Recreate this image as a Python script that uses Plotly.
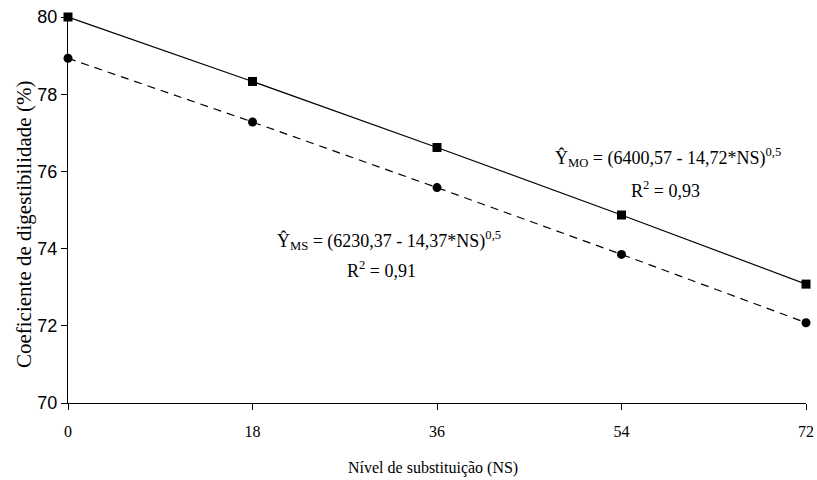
import plotly.graph_objects as go

ns = [0, 18, 36, 54, 72]
mo = [80.00, 78.33, 76.62, 74.87, 73.08]
ms = [78.93, 77.28, 75.58, 73.85, 72.08]
y_ticks = [70, 72, 74, 76, 78, 80]

serif = "Liberation Serif, Times New Roman, serif"
sans = "Liberation Sans, Arial, sans-serif"

fig = go.Figure()
fig.add_trace(go.Scatter(x=ns, y=mo, mode="lines+markers",
                         line=dict(color="black", width=1.2),
                         marker=dict(symbol="square", size=9, color="black"),
                         cliponaxis=False, showlegend=False))
fig.add_trace(go.Scatter(x=ns, y=ms, mode="lines+markers",
                         line=dict(color="black", width=1.2, dash="8px,6px"),
                         marker=dict(symbol="circle", size=9, color="black"),
                         cliponaxis=False, showlegend=False))

fig.update_layout(
    width=817, height=480,
    margin=dict(l=68, r=11, t=17, b=77),
    plot_bgcolor="white", paper_bgcolor="white",
    showlegend=False,
)
fig.update_xaxes(range=[0, 72], tickvals=ns, ticktext=[str(v) for v in ns],
                 automargin=False,
                 showgrid=False, zeroline=False, showline=True, linecolor="black",
                 linewidth=1, ticks="outside", ticklen=6, tickcolor="black",
                 ticklabelstandoff=8,
                 tickfont=dict(family=serif, size=16, color="black"))
fig.update_yaxes(range=[70, 80], tickvals=y_ticks,
                 automargin=False,
                 showgrid=False, zeroline=False, showline=True, linecolor="black",
                 linewidth=1, ticks="outside", ticklen=6, tickcolor="black",
                 tickfont=dict(family=sans, size=18, color="black"))

ann_font = dict(family=serif, size=18, color="black")
fig.add_annotation(x=-0.0596, y=0.461, xref="paper", yref="paper",
                   xanchor="center", yanchor="middle",
                   text="Coeficiente de digestibilidade (%)", textangle=-90,
                   showarrow=False, font=dict(family=serif, size=21, color="black"))
fig.add_annotation(x=0.495, y=-0.168, xref="paper", yref="paper",
                   xanchor="center", yanchor="middle",
                   text="Nível de substituição (NS)", showarrow=False,
                   font=dict(family=serif, size=16, color="black"))
fig.add_annotation(x=47.3, y=76.35, xanchor="left", showarrow=False, font=ann_font,
                   text="Ŷ<sub>MO</sub> = (6400,57 - 14,72*NS)<sup>0,5</sup>")
fig.add_annotation(x=58.3, y=75.52, showarrow=False, font=ann_font,
                   text="R<sup>2</sup> = 0,93")
fig.add_annotation(x=20.2, y=74.2, xanchor="left", showarrow=False, font=ann_font,
                   text="Ŷ<sub>MS</sub> = (6230,37 - 14,37*NS)<sup>0,5</sup>")
fig.add_annotation(x=30.6, y=73.45, showarrow=False, font=ann_font,
                   text="R<sup>2</sup> = 0,91")

fig.write_html("out.html")
